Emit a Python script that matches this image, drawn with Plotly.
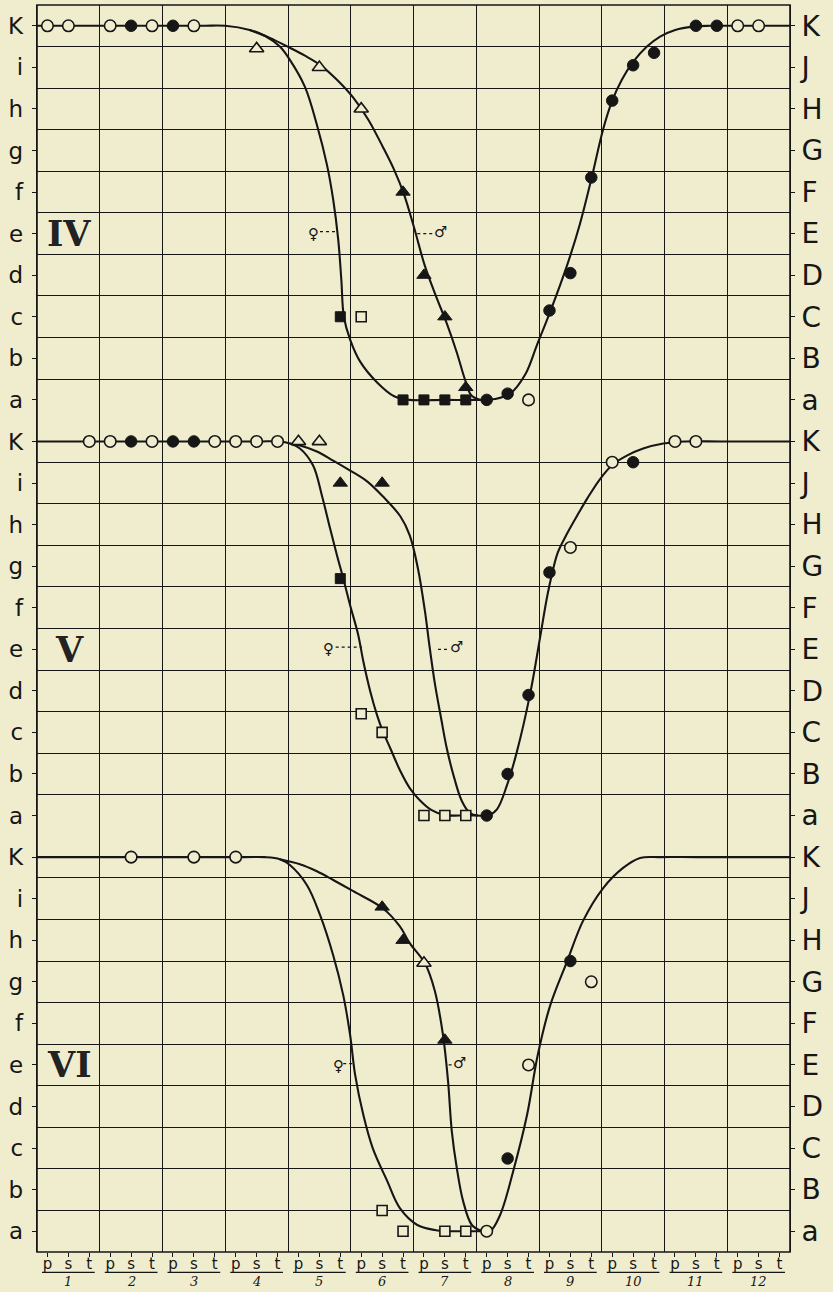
import plotly.graph_objects as go

# ---------------------------------------------------------------------------
# Scale: ten levels per panel (bottom a ... top K); days 1-12, each split p/s/t
# ---------------------------------------------------------------------------
LEFT_LEVELS = ["a", "b", "c", "d", "e", "f", "g", "h", "i", "K"]
RIGHT_LEVELS = ["a", "B", "C", "D", "E", "F", "G", "H", "J", "K"]
DAYS = list(range(1, 13))
PHASES = ["p", "s", "t"]
PANEL_NAMES = ["IV", "V", "VI"]


def xpos(code):
    """'7s' -> position on the day axis (day 7, phase s)."""
    day, phase = int(code[:-1]), code[-1]
    return (day - 1) + (PHASES.index(phase) + 0.5) / 3


# ---------------------------- Panel IV --------------------------------------
iv_open_circle_at = ["1p", "1s", "2p", "2t", "3s", "8t", "12p", "12s"]
iv_open_circle_lv = [9, 9, 9, 9, 9, 0, 9, 9]
iv_filled_circle_at = ["2s", "3p", "8p", "8s", "9p", "9s", "9t", "10p", "10s", "10t", "11s", "11t"]
iv_filled_circle_lv = [9, 9, 0, 0.15, 2.15, 3.05, 5.35, 7.2, 8.05, 8.35, 9, 9]
iv_open_tri_at = ["4s", "5s", "6p"]
iv_open_tri_lv = [8.45, 8, 7]
iv_filled_tri_at = ["6t", "7p", "7s", "7t"]
iv_filled_tri_lv = [5, 3, 2, 0.3]
iv_open_sq_at = ["6p"]
iv_open_sq_lv = [2]
iv_filled_sq_at = ["5t", "6t", "7p", "7s", "7t"]
iv_filled_sq_lv = [2, 0, 0, 0, 0]

iv_female_x = [0, 2.6, 3.0, 3.39, 3.63, 3.87, 4.03, 4.27, 4.46, 4.62, 4.72, 4.80, 4.85, 4.89,
               4.99, 5.15, 5.42, 5.70, 5.94, 6.5, 7.06, 7.30, 7.54, 7.78, 7.97, 8.18, 8.45,
               8.65, 8.84, 9.02, 9.16, 9.32, 9.50, 9.72, 9.93, 10.17, 10.45, 10.73, 11.2, 12]
iv_female_y = [9, 9, 9, 8.90, 8.76, 8.50, 8.18, 7.53, 6.62, 5.66, 4.82, 3.86, 2.89, 2.0,
               1.45, 0.92, 0.42, 0.08, 0, 0, 0, 0.02, 0.15, 0.61, 1.33, 2.13, 3.25,
               4.22, 5.35, 6.5, 7.17, 7.70, 8.13, 8.50, 8.74, 8.90, 8.98, 9, 9, 9]
iv_male_x = [3.39, 3.71, 4.03, 4.27, 4.51, 4.78, 5.04, 5.28, 5.51, 5.69, 5.85, 6.01, 6.18,
             6.36, 6.53, 6.69, 6.82, 6.92, 7.06]
iv_male_y = [8.90, 8.71, 8.47, 8.28, 8.06, 7.70, 7.27, 6.74, 6.09, 5.54, 4.94, 4.14, 3.23,
             2.49, 1.84, 1.14, 0.49, 0.11, 0]

# ---------------------------- Panel V ---------------------------------------
v_open_circle_at = ["1t", "2p", "2t", "3t", "4p", "4s", "4t", "9s", "10p", "11p", "11s"]
v_open_circle_lv = [9, 9, 9, 9, 9, 9, 9, 6.45, 8.5, 9, 9]
v_filled_circle_at = ["2s", "3p", "3s", "8p", "8s", "8t", "9p", "10s"]
v_filled_circle_lv = [9, 9, 9, 0, 1, 2.9, 5.85, 8.5]
v_open_tri_at = ["5p", "5s"]
v_open_tri_lv = [9, 9]
v_filled_tri_at = ["5t", "6s"]
v_filled_tri_lv = [8, 8]
v_open_sq_at = ["6p", "6s", "7p", "7s", "7t"]
v_open_sq_lv = [2.45, 2, 0, 0, 0]
v_filled_sq_at = ["5t"]
v_filled_sq_lv = [5.7]

v_female_x = [0, 3.5, 3.87, 4.03, 4.19, 4.40, 4.54, 4.67, 4.78, 4.88, 4.99, 5.12, 5.20, 5.31,
              5.42, 5.51, 5.63, 5.79, 5.94, 6.10, 6.29, 6.50, 6.74, 7.0, 7.19, 7.33, 7.49,
              7.65, 7.86, 8.02, 8.13, 8.21, 8.30, 8.45, 8.61, 8.77, 8.97, 9.18, 9.40, 9.66,
              9.98, 10.33, 10.9, 12]
v_female_y = [9, 9, 9, 8.95, 8.83, 8.42, 7.70, 6.91, 6.26, 5.71, 5.06, 4.34, 3.71, 2.99,
              2.41, 2.03, 1.62, 1.07, 0.66, 0.37, 0.13, 0.01, 0, 0, 0, 0.15, 0.73,
              1.55, 2.94, 4.31, 5.27, 5.83, 6.33, 6.79, 7.22, 7.63, 8.09, 8.45, 8.66, 8.83,
              8.95, 9, 9, 9]
v_male_x = [4.03, 4.19, 4.46, 4.72, 4.99, 5.26, 5.51, 5.79, 5.94, 6.07, 6.18, 6.26, 6.34,
            6.44, 6.53, 6.65, 6.77, 6.90, 7.03]
v_male_y = [8.95, 8.90, 8.76, 8.54, 8.30, 8.04, 7.68, 7.20, 6.74, 5.95, 4.94, 4.02, 3.18,
            2.34, 1.62, 0.90, 0.35, 0.06, 0]

# ---------------------------- Panel VI --------------------------------------
vi_open_circle_at = ["2s", "3s", "4p", "8p", "8t", "9t"]
vi_open_circle_lv = [9, 9, 9, 0, 4, 6]
vi_filled_circle_at = ["8s", "9s"]
vi_filled_circle_lv = [1.75, 6.5]
vi_open_tri_at = ["7p"]
vi_open_tri_lv = [6.45]
vi_filled_tri_at = ["6s", "6t", "7s"]
vi_filled_tri_lv = [7.8, 7, 4.6]
vi_open_sq_at = ["6s", "6t", "7s", "7t"]
vi_open_sq_lv = [0.5, 0, 0, 0]
vi_filled_sq_at = []
vi_filled_sq_lv = []

vi_female_x = [0, 3.3, 3.63, 3.87, 4.03, 4.30, 4.51, 4.72, 4.88, 4.99, 5.07, 5.20, 5.35,
               5.58, 5.78, 6.06, 6.34, 6.58, 6.9, 7.06, 7.22, 7.38, 7.59, 7.81, 7.98, 8.18,
               8.45, 8.70, 9.02, 9.34, 9.61, 9.93, 10.5, 12]
vi_female_y = [9, 9, 9, 8.95, 8.81, 8.33, 7.61, 6.64, 5.68, 4.72, 3.76, 2.80, 2.0,
               1.21, 0.56, 0.15, 0.03, 0, 0, 0, 0, 0.39, 1.45, 2.80, 4.24, 5.44,
               6.50, 7.46, 8.25, 8.74, 8.98, 9, 9, 9]
vi_male_x = [3.87, 4.19, 4.46, 4.72, 5.04, 5.51, 5.78, 5.94, 6.18, 6.34, 6.47, 6.55, 6.61,
             6.69, 6.79, 6.93, 7.09]
vi_male_y = [8.95, 8.83, 8.66, 8.45, 8.18, 7.77, 7.34, 6.93, 6.45, 5.78, 4.72, 3.62, 2.41,
             1.52, 0.73, 0.15, 0]

# ♀ / ♂ labels with dashed leaders: (symbol x, level, leader x0, leader x1)
female_tags = [(4.40, 4, 4.51, 4.76), (4.64, 4, 4.76, 5.18), (4.80, 3.98, 4.88, 5.07)]
male_tags = [(6.43, 4.05, 6.06, 6.31), (6.69, 4.05, 6.39, 6.58), (6.74, 4.05, 6.56, 6.66)]

# ---------------------------------------------------------------------------
PAPER = "#F0EDCF"
INK = "#161616"
FONT = "DejaVu Sans"

panels = [
    dict(fx=iv_female_x, fy=iv_female_y, mx=iv_male_x, my=iv_male_y,
         oc=(iv_open_circle_at, iv_open_circle_lv), fc=(iv_filled_circle_at, iv_filled_circle_lv),
         ot=(iv_open_tri_at, iv_open_tri_lv), ft=(iv_filled_tri_at, iv_filled_tri_lv),
         os=(iv_open_sq_at, iv_open_sq_lv), fs=(iv_filled_sq_at, iv_filled_sq_lv)),
    dict(fx=v_female_x, fy=v_female_y, mx=v_male_x, my=v_male_y,
         oc=(v_open_circle_at, v_open_circle_lv), fc=(v_filled_circle_at, v_filled_circle_lv),
         ot=(v_open_tri_at, v_open_tri_lv), ft=(v_filled_tri_at, v_filled_tri_lv),
         os=(v_open_sq_at, v_open_sq_lv), fs=(v_filled_sq_at, v_filled_sq_lv)),
    dict(fx=vi_female_x, fy=vi_female_y, mx=vi_male_x, my=vi_male_y,
         oc=(vi_open_circle_at, vi_open_circle_lv), fc=(vi_filled_circle_at, vi_filled_circle_lv),
         ot=(vi_open_tri_at, vi_open_tri_lv), ft=(vi_filled_tri_at, vi_filled_tri_lv),
         os=(vi_open_sq_at, vi_open_sq_lv), fs=(vi_filled_sq_at, vi_filled_sq_lv)),
]

marker_styles = {
    "oc": dict(symbol="circle", size=11.5, color=PAPER, line=dict(color=INK, width=1.6)),
    "fc": dict(symbol="circle", size=11.5, color=INK, line=dict(color=INK, width=1)),
    "ot": dict(symbol="triangle-up", size=12.5, color=PAPER, line=dict(color=INK, width=1.6)),
    "ft": dict(symbol="triangle-up", size=12.5, color=INK, line=dict(color=INK, width=1)),
    "os": dict(symbol="square", size=10, color=PAPER, line=dict(color=INK, width=1.6)),
    "fs": dict(symbol="square", size=10, color=INK, line=dict(color=INK, width=1)),
}

fig = go.Figure()
yrefs = ["y", "y2", "y3"]
for pi, p in enumerate(panels):
    yr = yrefs[pi]
    for cx, cy in ((p["fx"], p["fy"]), (p["mx"], p["my"])):
        fig.add_trace(go.Scatter(x=cx, y=cy, mode="lines", xaxis="x", yaxis=yr,
                                 line=dict(color=INK, width=2.1, shape="spline", smoothing=1.0),
                                 hoverinfo="skip", showlegend=False))
    for key in ("oc", "fc", "ot", "ft", "os", "fs"):
        codes, lv = p[key]
        if not codes:
            continue
        fig.add_trace(go.Scatter(x=[xpos(c) for c in codes], y=lv, mode="markers",
                                 xaxis="x", yaxis=yr, marker=marker_styles[key],
                                 showlegend=False))
    # hidden carrier so the right-hand letter scale of this panel is rendered
    fig.add_trace(go.Scatter(x=[12] * len(RIGHT_LEVELS), y=list(range(len(RIGHT_LEVELS))),
                             mode="markers", marker=dict(opacity=0), xaxis="x",
                             yaxis=f"y{pi + 4}", hoverinfo="skip", showlegend=False))

# axes ----------------------------------------------------------------------
tick_positions = [xpos(f"{d}{ph}") for d in DAYS for ph in PHASES]
tick_texts = [ph for d in DAYS for ph in PHASES]
grid = dict(showgrid=True, gridcolor=INK, gridwidth=1.4)

layout = dict(
    width=833, height=1292,
    margin=dict(l=37, r=43, t=5, b=40, autoexpand=False),
    paper_bgcolor=PAPER, plot_bgcolor=PAPER,
    font=dict(family=FONT, color=INK),
    showlegend=False,
    xaxis=dict(domain=[0, 1], range=[0, 12], anchor="y3", showgrid=False, zeroline=False,
               automargin=False, showline=False,
               tickmode="array", tickvals=tick_positions, ticktext=tick_texts,
               ticks="outside", ticklen=4, tickwidth=1.2, tickcolor=INK,
               tickfont=dict(size=15, family=FONT, color=INK), ticklabelstandoff=-6,
               minor=dict(tickmode="array", tickvals=list(range(0, 13)), ticks="", **grid)),
)
domains = [[2 / 3, 1], [1 / 3, 2 / 3], [0, 1 / 3]]
half_steps = [k - 0.5 for k in range(11)]
for i in range(3):
    left = dict(domain=domains[i], range=[-0.5, 9.5], anchor="x", zeroline=False, showgrid=False,
                automargin=False,
                tickmode="array", tickvals=list(range(10)), ticktext=LEFT_LEVELS,
                ticks="outside", ticklen=4, tickwidth=1.4, tickcolor=INK,
                tickfont=dict(size=23, family=FONT, color=INK), ticklabelstandoff=4,
                showline=True, linecolor=INK, linewidth=1.4, mirror=True,
                minor=dict(tickmode="array", tickvals=half_steps, ticks="", **grid))
    right = dict(domain=domains[i], range=[-0.5, 9.5], anchor="x", overlaying=yrefs[i],
                 side="right", zeroline=False, showgrid=False, automargin=False,
                 tickmode="array", tickvals=list(range(10)), ticktext=RIGHT_LEVELS,
                 ticks="outside", ticklen=4, tickwidth=1.4, tickcolor=INK,
                 tickfont=dict(size=28, family=FONT, color=INK), ticklabelstandoff=1)
    layout["yaxis" if i == 0 else f"yaxis{i + 1}"] = left
    layout[f"yaxis{i + 4}"] = right
fig.update_layout(**layout)

# outer frame of the chart area
fig.add_shape(type="rect", xref="paper", yref="paper", x0=0, x1=1, y0=0, y1=1,
              line=dict(color=INK, width=1.6), layer="above")

# panel numerals -------------------------------------------------------------
for i, name in enumerate(PANEL_NAMES):
    fig.add_annotation(x=0.51, y=4, xref="x", yref=yrefs[i], text=f"<b>{name}</b>",
                       showarrow=False, font=dict(family="DejaVu Serif", size=35, color="#222222"))

# ♀ / ♂ markers of the two descending curves ---------------------------------
for i in range(3):
    sx, sy, x0, x1 = female_tags[i]
    fig.add_annotation(x=sx, y=sy, xref="x", yref=yrefs[i], text="♀", showarrow=False,
                       font=dict(family=FONT, size=15, color=INK))
    fig.add_shape(type="line", xref="x", yref=yrefs[i], x0=x0, x1=x1, y0=sy + 0.05, y1=sy + 0.05,
                  line=dict(color=INK, width=1.2, dash="3px,3px"))
    sx, sy, x0, x1 = male_tags[i]
    fig.add_annotation(x=sx, y=sy, xref="x", yref=yrefs[i], text="♂", showarrow=False,
                       font=dict(family=FONT, size=15, color=INK))
    fig.add_shape(type="line", xref="x", yref=yrefs[i], x0=x0, x1=x1, y0=sy - 0.05, y1=sy - 0.05,
                  line=dict(color=INK, width=1.2, dash="3px,3px"))

# day numbers under the p-s-t groups -----------------------------------------
for d in DAYS:
    fig.add_shape(type="line", xref="x", yref="paper", x0=d - 1 + 0.08, x1=d - 0.08,
                  y0=-0.0164, y1=-0.0164, line=dict(color=INK, width=1.3))
    fig.add_annotation(x=d - 0.5, y=-0.0236, xref="x", yref="paper", yanchor="middle",
                       text=f"<i>{d}</i>", showarrow=False, borderpad=0,
                       font=dict(family="DejaVu Serif", size=13, color=INK))

fig.write_html("out.html")
